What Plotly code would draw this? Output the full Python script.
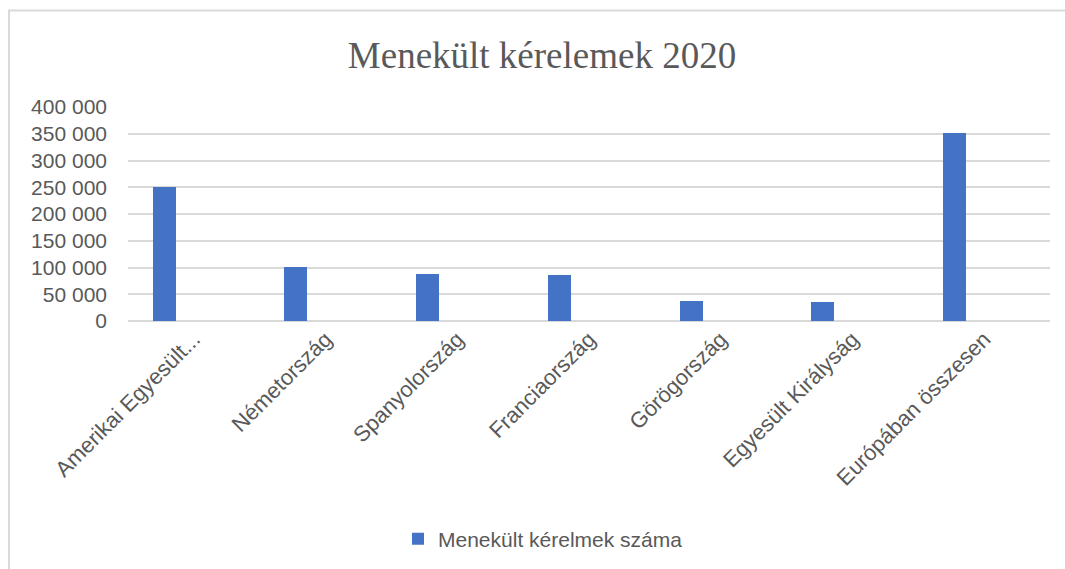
import plotly.graph_objects as go

categories = ["Amerikai Egyesült...", "Németország", "Spanyolország", "Franciaország",
              "Görögország", "Egyesült Királyság", "Európában összesen"]
values = [250000, 101500, 88000, 86500, 36800, 35000, 352000]
series_name = "Menekült kérelmek száma"
title_text = "Menekült kérelemek 2020"
y_ticks = [0, 50000, 100000, 150000, 200000, 250000, 300000, 350000, 400000]
y_tick_labels = ["0", "50 000", "100 000", "150 000", "200 000", "250 000", "300 000", "350 000", "400 000"]

W, H = 1065, 569
ml, mr, mt, mb = 128, 15, 107, 247
pw = W - ml - mr
ph = H - mt - mb

fig = go.Figure()
fig.add_trace(go.Bar(
    x=categories, y=values, name=series_name,
    marker=dict(color="#4472C4", line=dict(width=0)),
    width=0.175, offset=-0.3125,
))

grey = "#595959"
fig.update_layout(
    width=W, height=H,
    margin=dict(l=ml, r=mr, t=mt, b=mb),
    paper_bgcolor="white", plot_bgcolor="white",
    title=dict(text=title_text, x=542 / W, xanchor="center", y=1 - 55 / H, yanchor="middle",
               yref="container", xref="container",
               font=dict(family="Liberation Serif", size=37, color=grey)),
    showlegend=True,
    legend=dict(orientation="h", x=(398 - ml) / pw, xanchor="left",
                y=(mt + ph - 539) / ph, yanchor="middle",
                font=dict(family="Liberation Sans", size=21, color=grey),
                itemwidth=30, bgcolor="rgba(0,0,0,0)"),
    xaxis=dict(type="category", tickangle=-45, showgrid=False, showline=False,
               ticks="", tickfont=dict(family="Liberation Sans", size=22, color=grey),
               range=[-0.5, len(categories) - 0.5]),
    yaxis=dict(range=[0, 400000], tickvals=y_ticks, ticktext=y_tick_labels,
               showgrid=True, gridcolor="#d9d9d9", gridwidth=1.5,
               zeroline=True, zerolinecolor="#d9d9d9", zerolinewidth=1.5,
               showline=False, ticks="", ticklabelstandoff=20,
               tickfont=dict(family="Liberation Sans", size=21, color=grey)),
    bargap=0,
)

fig.add_shape(type="rect", xref="paper", yref="paper",
              x0=(9 - ml) / pw, x1=(W + 20 - ml) / pw,
              y0=(mt + ph - (H + 20)) / ph, y1=(mt + ph - 10) / ph,
              line=dict(color="#d9d9d9", width=2), fillcolor="rgba(0,0,0,0)", layer="below")

fig.write_html("out.html")
